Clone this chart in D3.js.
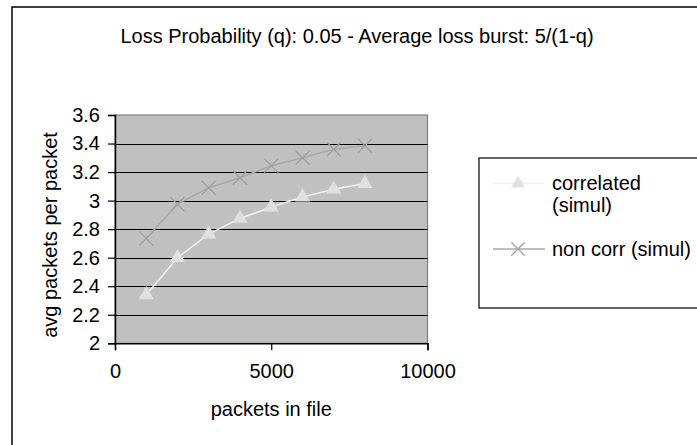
<!DOCTYPE html>
<html>
<head>
<meta charset="utf-8">
<script src="https://cdnjs.cloudflare.com/ajax/libs/d3/7.8.5/d3.min.js"></script>
<style>
	body { margin: 0; background: #fff; }
	text { font-family: "Liberation Sans", Arial, sans-serif; }
</style>
</head>
<body>
<div id="container"></div>
<script>
// data
var packets = [1000, 2000, 3000, 4000, 5000, 6000, 7000, 8000];
var correlated = [2.34, 2.60, 2.765, 2.875, 2.955, 3.025, 3.08, 3.12];
var nonCorr = [2.735, 2.975, 3.09, 3.16, 3.245, 3.30, 3.36, 3.385];
var yTicks = [2, 2.2, 2.4, 2.6, 2.8, 3, 3.2, 3.4, 3.6];
var xTicks = [0, 5000, 10000];
var seriesNames = ["correlated\n(simul)", "non corr (simul)"];
var title = "Loss Probability (q): 0.05 - Average loss burst: 5/(1-q)";

function makeChart(){
	var w = 697;
	var h = 445;

	var svg = d3.select("#container")
		.append("svg")
		.attr("width", w)
		.attr("height", h);

	//outer frame (runs off the right and bottom)
	svg.append("rect")
		.attr("x", 12).attr("y", 7)
		.attr("width", 720).attr("height", 460)
		.attr("fill", "none")
		.attr("stroke", "#000")
		.attr("stroke-width", 1.5);

	var plot = {left: 115, right: 427.5, top: 115, bottom: 343.3};

	var xScale = d3.scaleLinear()
		.domain([0, 10000])
		.range([plot.left, plot.right]);

	var yScale = d3.scaleLinear()
		.domain([2, 3.6])
		.range([plot.bottom, plot.top]);

	//plot background
	svg.append("rect")
		.attr("x", plot.left).attr("y", plot.top)
		.attr("width", plot.right - plot.left)
		.attr("height", plot.bottom - plot.top)
		.attr("fill", "#c0c0c0")
		.attr("stroke", "#808080")
		.attr("stroke-width", 1.2);

	//gridlines
	svg.append("g")
		.selectAll("line")
		.data(yTicks.slice(1, -1))
		.enter()
		.append("line")
		.attr("x1", plot.left).attr("x2", plot.right)
		.attr("y1", function(d){ return Math.round(yScale(d)) + 0.5; })
		.attr("y2", function(d){ return Math.round(yScale(d)) + 0.5; })
		.attr("stroke", "#000")
		.attr("stroke-width", 1);

	//axes
	var yAxis = svg.append("g")
		.attr("transform", "translate(" + plot.left + ",0)")
		.call(d3.axisLeft(yScale).tickValues(yTicks).tickSize(7).tickPadding(8)
			.tickFormat(function(d){ return d3.format("")(+d.toFixed(1)); }));

	var xAxis = svg.append("g")
		.attr("transform", "translate(0," + plot.bottom + ")")
		.call(d3.axisBottom(xScale).tickValues(xTicks).tickSize(7).tickPadding(14)
			.tickFormat(d3.format("d")));

	[yAxis, xAxis].forEach(function(a){
		a.select(".domain").attr("stroke", "#000").attr("stroke-width", 1.5);
		a.selectAll(".tick line").attr("stroke", "#000").attr("stroke-width", 1.2);
		a.selectAll("text")
			.attr("font-family", "Liberation Sans, Arial, sans-serif")
			.attr("font-size", "20px")
			.attr("fill", "#000");
	});

	//series
	var line = d3.line()
		.x(function(d, i){ return xScale(packets[i]); })
		.y(function(d){ return yScale(d); });

	svg.append("path")
		.attr("d", line(nonCorr))
		.attr("fill", "none")
		.attr("stroke", "#a8a8a8")
		.attr("stroke-width", 1.5);

	svg.append("g")
		.selectAll("path")
		.data(nonCorr)
		.enter()
		.append("path")
		.attr("d", d3.symbol().type(d3.symbolTimes).size(130))
		.attr("transform", function(d, i){ return "translate(" + xScale(packets[i]) + "," + yScale(d) + ")"; })
		.attr("fill", "none")
		.attr("stroke", "#a0a0a0")
		.attr("stroke-width", 1.3);

	svg.append("path")
		.attr("d", line(correlated))
		.attr("fill", "none")
		.attr("stroke", "#f2f2f2")
		.attr("stroke-width", 1.5);

	svg.append("g")
		.selectAll("path")
		.data(correlated)
		.enter()
		.append("path")
		.attr("d", d3.symbol().type(d3.symbolTriangle).size(100))
		.attr("transform", function(d, i){ return "translate(" + xScale(packets[i]) + "," + yScale(d) + ")"; })
		.attr("fill", "#e0e0e0");

	//title and axis labels
	svg.append("text")
		.attr("x", 357).attr("y", 43)
		.attr("text-anchor", "middle")
		.attr("font-size", "20px")
		.text(title);

	svg.append("text")
		.attr("x", (plot.left + plot.right) / 2).attr("y", 416)
		.attr("text-anchor", "middle")
		.attr("font-size", "20px")
		.text("packets in file");

	svg.append("text")
		.attr("transform", "translate(57,235) rotate(-90)")
		.attr("text-anchor", "middle")
		.attr("font-size", "20px")
		.text("avg packets per packet");

	//legend
	var legend = svg.append("g");
	legend.append("rect")
		.attr("x", 479).attr("y", 158)
		.attr("width", 260).attr("height", 150)
		.attr("fill", "#fff")
		.attr("stroke", "#000")
		.attr("stroke-width", 1.2);

	var rows = [
		{y: 183.5, color: "#f0f0f0", sym: d3.symbolTriangle, size: 85, fill: "#e0e0e0"},
		{y: 249, color: "#a8a8a8", sym: d3.symbolTimes, size: 120, fill: "none"}
	];
	rows.forEach(function(r, i){
		legend.append("line")
			.attr("x1", 493).attr("x2", 545)
			.attr("y1", r.y).attr("y2", r.y)
			.attr("stroke", r.color)
			.attr("stroke-width", 1.5);
		legend.append("path")
			.attr("d", d3.symbol().type(r.sym).size(r.size))
			.attr("transform", "translate(518," + r.y + ")")
			.attr("fill", r.fill)
			.attr("stroke", r.fill == "none" ? "#a0a0a0" : "none")
			.attr("stroke-width", 1.3);
		var t = legend.append("text")
			.attr("x", 552).attr("y", r.y + 6.5)
			.attr("font-size", "20px");
		seriesNames[i].split("\n").forEach(function(s, j){
			t.append("tspan").attr("x", 552).attr("dy", j == 0 ? 0 : 22).text(s);
		});
	});
}

makeChart();
</script>
</body>
</html>
